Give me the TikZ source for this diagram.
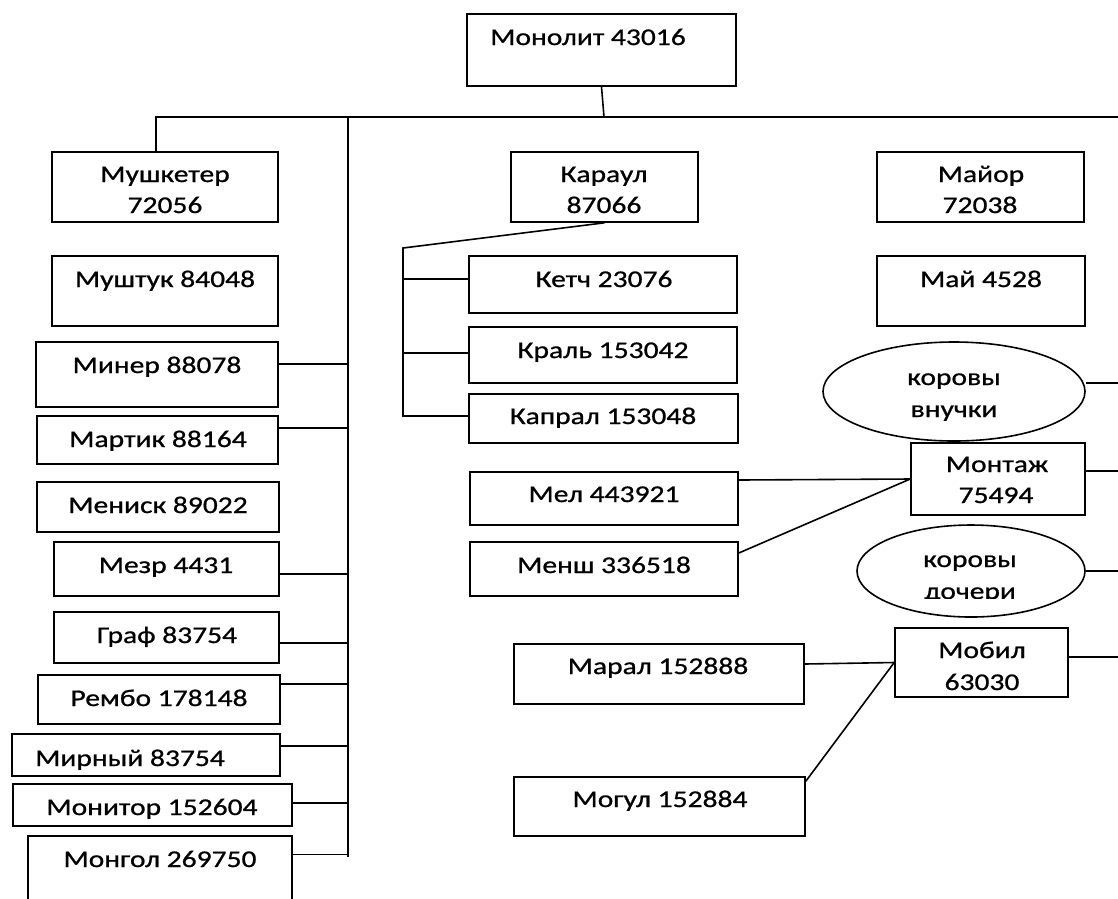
\documentclass[tikz,border=0pt]{standalone}
\usepackage{fontspec}
\setmainfont{Carlito}[FakeStretch=1.23,FakeBold=0.8]
\usetikzlibrary{shapes.geometric}

% branch from a box side (shifted by #2) horizontally to the x of coordinate #4
\newcommand\branchto[4]{%
  \path ([yshift=#2]#1.#3) coordinate (#1-c);
  \draw[link] (#1-c) -- (#1-c -| #4);}

\begin{document}
\begin{tikzpicture}[x=1pt,y=-1pt,
  box/.style={draw, rectangle, inner sep=0pt, line width=1.6pt},
  oval/.style={draw, ellipse, inner sep=0pt, line width=1.6pt},
  lbl/.style={anchor=base, inner sep=0pt, font=\fontsize{24}{31}\selectfont},
  link/.style={line width=1.6pt}]

\fill[white] (0,0) rectangle (1118,898);
\useasboundingbox (0,0) rectangle (1118,898);

% ---------- root ----------
\node[box, minimum width=269pt, minimum height=72pt] (mon) at (601.5,50) {};
\node[lbl] (mon-t) at (588,45) {Монолит 43016};

% ---------- left column ----------
\node[box, minimum width=226pt, minimum height=70pt] (mush) at (165,187) {};
\node[lbl] at (165,182) {Мушкетер};
\node[lbl] at (165,213) {72056};

\node[box, minimum width=226pt, minimum height=70pt] (musht) at (165,291) {};
\node[lbl] at (165,287) {Муштук 84048};

\node[box, minimum width=242pt, minimum height=65pt] (miner) at (157,374.5) {};
\node[lbl] at (157,373) {Минер 88078};

\node[box, minimum width=241pt, minimum height=48pt] (martik) at (157.5,440) {};
\node[lbl] at (158,447) {Мартик 88164};

\node[box, minimum width=242pt, minimum height=50pt] (menisk) at (158,507) {};
\node[lbl] at (158,513) {Мениск 89022};

\node[box, minimum width=225pt, minimum height=54pt] (mezr) at (166.5,569) {};
\node[lbl] at (166,573) {Мезр 4431};

\node[box, minimum width=225pt, minimum height=51pt] (graf) at (166.5,637.5) {};
\node[lbl] at (167,643) {Граф 83754};

\node[box, minimum width=242pt, minimum height=49pt] (rembo) at (159,699.5) {};
\node[lbl] at (159,706) {Рембо 178148};

\node[box, minimum width=268pt, minimum height=42pt] (mirny) at (146,755) {};
\node[lbl] at (130,766) {Мирный 83754};

\node[box, minimum width=279pt, minimum height=42pt] (monitor) at (152.5,805) {};
\node[lbl] at (152,815) {Монитор 152604};

\node[box, minimum width=264pt, minimum height=80pt] (mongol) at (160,876) {};
\node[lbl] at (160,867) {Монгол 269750};

% ---------- middle column ----------
\node[box, minimum width=187pt, minimum height=70pt] (karaul) at (604.5,187) {};
\node[lbl] at (604,182) {Караул};
\node[lbl] at (604,213) {87066};

\node[box, minimum width=268pt, minimum height=57pt] (ketch) at (603,284.5) {};
\node[lbl] at (604,287) {Кетч 23076};

\node[box, minimum width=268pt, minimum height=56pt] (kral) at (603,355) {};
\node[lbl] at (603,358) {Краль 153042};

\node[box, minimum width=269pt, minimum height=49pt] (kapral) at (603.5,418.5) {};
\node[lbl] at (603,424) {Капрал 153048};

\node[box, minimum width=268pt, minimum height=53pt] (mel) at (604,498.5) {};
\node[lbl] at (604,502) {Мел 443921};

\node[box, minimum width=268pt, minimum height=54pt] (mensh) at (604,569) {};
\node[lbl] at (604,573) {Менш 336518};

\node[box, minimum width=290pt, minimum height=60pt] (maral) at (659,674) {};
\node[lbl] at (658,674) {Марал 152888};

\node[box, minimum width=291pt, minimum height=59pt] (mogul) at (659.5,806.5) {};
\node[lbl] at (660,807) {Могул 152884};

% ---------- right column ----------
\node[box, minimum width=207pt, minimum height=70pt] (mayor) at (980.5,187) {};
\node[lbl] at (981,182) {Майор};
\node[lbl] at (980,213) {72038};

\node[box, minimum width=208pt, minimum height=70pt] (mai) at (981,291) {};
\node[lbl] at (981,287) {Май 4528};

\node[oval, minimum width=262pt, minimum height=99pt] (vn) at (954,391.5) {};
\node[lbl] at (954,385) {коровы};
\node[lbl] at (954,417) {внучки};

\node[box, minimum width=174pt, minimum height=72pt] (montazh) at (998,479) {};
\node[lbl] at (997,472) {Монтаж};
\node[lbl] at (996,503) {75494};

\node[oval, minimum width=228pt, minimum height=92pt] (doch) at (971,571) {};
\node[lbl] at (970,567) {коровы};
% the second line is cut off at the lower edge of its text area
\begin{scope}
  \clip (880,575) rectangle (1060,598.5);
  \node[lbl] at (970,599) {дочери};
\end{scope}

\node[box, minimum width=173pt, minimum height=69pt] (mobil) at (981.5,662.5) {};
\node[lbl] at (982,658) {Мобил};
\node[lbl] at (982,690) {63030};

% ---------- connectors ----------
\coordinate (bus) at (604,117);
\coordinate (edge) at (1118,117);
\coordinate (trunk) at (348,117);
\coordinate (trunkend) at (348,857);
\coordinate (kbus) at (403,248);

\draw[link] (mon.south) -- (bus);
\draw[link] ([xshift=-9pt]mush.north) |- (edge);
\draw[link] (trunk) -- (trunkend);

\branchto{miner}{10.5pt}{east}{trunk}
\branchto{martik}{12pt}{east}{trunk}
\branchto{mezr}{-5pt}{east}{trunk}
\branchto{graf}{-5.5pt}{east}{trunk}
\branchto{rembo}{15.5pt}{east}{trunk}
\branchto{mirny}{9pt}{east}{trunk}
\branchto{monitor}{2pt}{east}{trunk}
\branchto{mongol}{21.5pt}{east}{trunk}

\path ([yshift=2.5pt]kapral.west) coordinate (kapral-c);
\draw[link] (karaul.south) -- (kbus) -- (kbus |- kapral-c) -- (kapral-c);
\branchto{ketch}{5.5pt}{west}{kbus}
\branchto{kral}{2pt}{west}{kbus}

\draw[link] ([yshift=18.5pt]mel.east) -- (montazh.west);
\draw[link] ([yshift=16pt]mensh.east) -- (montazh.west);
\draw[link] ([yshift=10pt]maral.east) -- (mobil.west);
\draw[link] ([yshift=-5pt]mogul.north east) -- (mobil.west);

\branchto{vn}{8.5pt}{east}{edge}
\branchto{montazh}{8pt}{east}{edge}
\branchto{doch}{0pt}{east}{edge}
\branchto{mobil}{5.5pt}{east}{edge}

\end{tikzpicture}
\end{document}
